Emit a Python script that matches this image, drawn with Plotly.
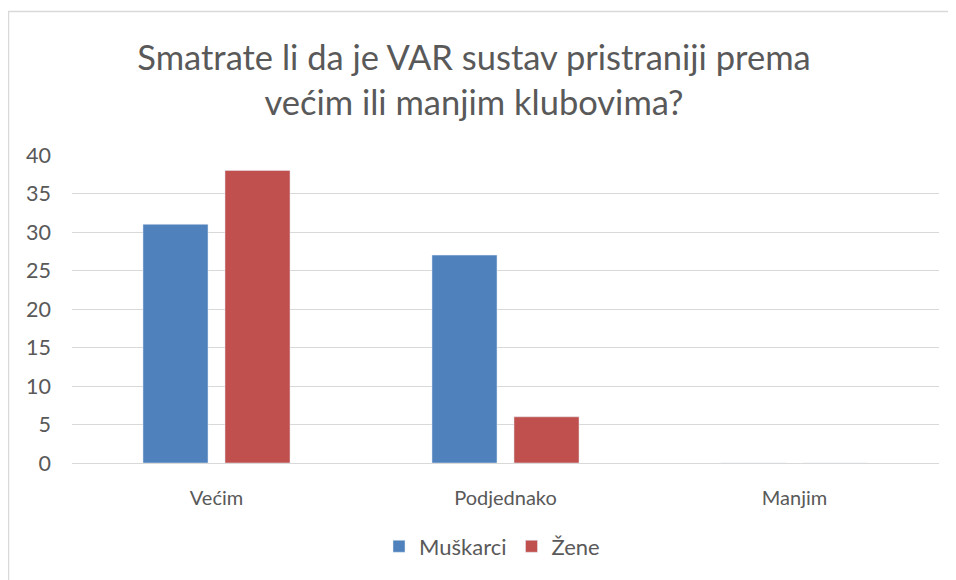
import plotly.graph_objects as go

categories = ["Većim", "Podjednako", "Manjim"]
muskarci = [31, 27, 0]
zene = [38, 6, 0]
series_names = ["Muškarci", "Žene"]
y_ticks = [0, 5, 10, 15, 20, 25, 30, 35, 40]

FONT = "Lato"
GRAY = "#595959"

fig = go.Figure()
fig.add_trace(go.Bar(x=categories, y=muskarci, name=series_names[0], marker_color="#4f81bd"))
fig.add_trace(go.Bar(x=categories, y=zene, name=series_names[1], marker_color="#c0504d"))

# page body has an 8px margin; work in screen coordinates and shift
OFF = 8
W, H = 956 - OFF, 580 - OFF
L, R, T, B = 72 - OFF, 956 - 939, 155 - OFF, 580 - 465
pw, ph = W - L - R, H - T - B

def px_x(x):
    return (x - OFF - L) / pw

def px_y(y):
    return (H - B - (y - OFF)) / ph

fig.update_layout(
    width=W, height=H,
    margin=dict(l=L, r=R, t=T, b=B, pad=0),
    paper_bgcolor="white", plot_bgcolor="white",
    font=dict(family=FONT, color=GRAY, size=20),
    title=dict(
        text="Smatrate li da je VAR sustav pristraniji prema<br>većim ili manjim klubovima?",
        x=(474 - OFF) / W, xanchor="center", y=1 - (40 - OFF + 30) / H, yanchor="top",
        font=dict(family=FONT, size=34.5, color=GRAY),
    ),
    barmode="group", bargap=0.4325, bargroupgap=0.207,
    showlegend=True,
    legend=dict(orientation="h", x=px_x(492), xanchor="center", y=px_y(549), yanchor="middle",
                font=dict(size=22, color=GRAY), bgcolor="rgba(0,0,0,0)"),
    xaxis=dict(showgrid=False, showline=False, zeroline=False, ticks="",
               ticklabelstandoff=21, tickfont=dict(size=20, color=GRAY)),
    yaxis=dict(range=[0, 40], tickvals=y_ticks, showgrid=True, gridcolor="#d9d9d9", gridwidth=1.3,
               zeroline=True, zerolinecolor="#d9d9d9", zerolinewidth=1.3, showline=False,
               ticks="", ticklabelstandoff=20, tickfont=dict(size=21.5, color=GRAY)),
    shapes=[dict(type="rect", xref="paper", yref="paper",
                 x0=px_x(8.5), x1=px_x(980), y0=px_y(600), y1=px_y(10.5),
                 line=dict(color="#d9d9d9", width=1.5), fillcolor="rgba(0,0,0,0)", layer="below")],
)

fig.write_html("out.html")
